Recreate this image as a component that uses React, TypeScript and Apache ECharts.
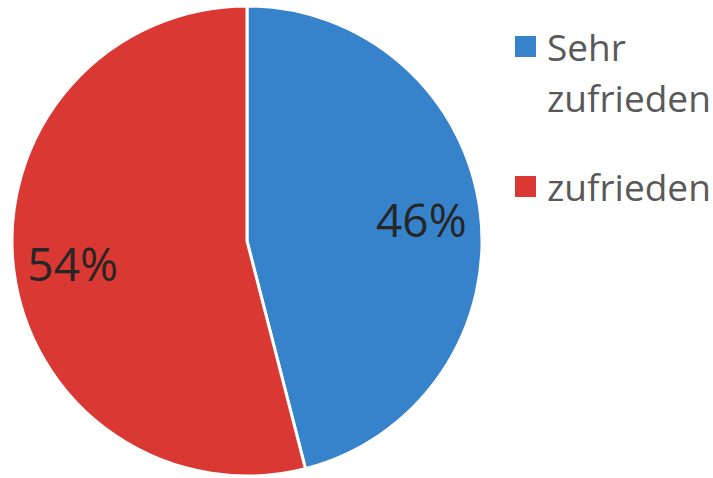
import React, { useEffect, useRef } from "react";
import * as echarts from "echarts";

const categories = ["Sehr zufrieden", "zufrieden"];
const values = [46, 54];
const colors = ["#3683CB", "#DA3833"];

export default function App() {
  const ref = useRef<HTMLDivElement>(null);
  useEffect(() => {
    document.body.style.margin = "0";
    const chart = echarts.init(ref.current!, null, { renderer: "svg" });
    const data = categories.map((name, i) => ({
      name,
      value: values[i],
      itemStyle: { color: colors[i] },
    }));
    const center = [247, 241];
    const R = 235;
    chart.setOption({
      animation: false,
      backgroundColor: "#ffffff",
      legend: {
        orient: "vertical",
        left: 513,
        top: -30,
        padding: 0,
        itemGap: 38,
        itemWidth: 23,
        itemHeight: 23,
        icon: "rect",
        selectedMode: false,
        formatter: (name: string) =>
          name.indexOf(" ") >= 0 ? "\n" + name.replace(" ", "\n") : name,
        textStyle: {
          fontFamily: "Open Sans",
          fontSize: 37,
          lineHeight: 51,
          color: "#595959",
          padding: [0, 0, 0, 5],
        },
        data: categories,
      },
      series: [
        {
          type: "pie",
          center,
          radius: [0, R],
          startAngle: 90,
          clockwise: true,
          silent: true,
          label: { show: false },
          labelLine: { show: false },
          itemStyle: { borderColor: "#ffffff", borderWidth: 3 },
          data,
        },
        {
          type: "pie",
          center,
          radius: [R * 0.47, R],
          startAngle: 90,
          clockwise: true,
          silent: true,
          itemStyle: { color: "rgba(0,0,0,0)" },
          label: {
            show: true,
            position: "inside",
            formatter: "{d}%",
            fontFamily: "Open Sans",
            fontSize: 46,
            color: "#262626",
          },
          labelLine: { show: false },
          data: categories.map((name, i) => ({ name, value: values[i] })),
        },
      ],
    });
    return () => chart.dispose();
  }, []);
  return (
    <div
      ref={ref}
      style={{ position: "absolute", left: 0, top: 0, width: 713, height: 478 }}
    />
  );
}
